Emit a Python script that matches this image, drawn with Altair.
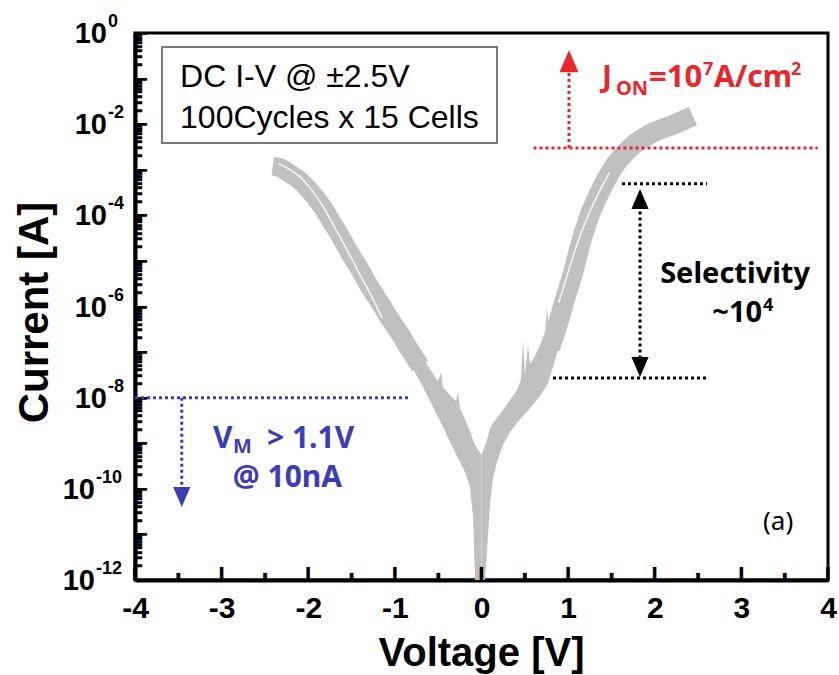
import altair as alt
import pandas as pd

# ---------------- values ----------------
# left (negative-voltage) branch of the grey I-V band: centre line
left_V = [-2.41, -2.32, -2.21, -2.09, -1.98, -1.86, -1.75, -1.63, -1.52, -1.40,
          -1.29, -1.17, -1.06, -0.94, -0.83, -0.71]
left_I = [1.2e-3, 1.1e-3, 8.1e-4, 5.6e-4, 3.4e-4, 1.78e-4, 8.3e-5, 3.5e-5, 1.48e-5, 6.3e-6,
          2.7e-6, 1.2e-6, 5.4e-7, 2.5e-7, 1.12e-7, 5.0e-8]
# thin light seam inside the left band
lseam_V = [-2.34, -2.21, -2.09, -1.98, -1.84, -1.69, -1.54, -1.40, -1.26, -1.15]
lseam_I = [1.35e-3, 1.0e-3, 6.9e-4, 4.0e-4, 1.7e-4, 5.2e-5, 1.58e-5, 4.9e-6, 1.55e-6, 5.6e-7]
# noisy low-current part of the left branch (upper and lower envelope)
larea_V = [-0.941, -0.826, -0.710, -0.595, -0.502, -0.468, -0.444, -0.364, -0.294, -0.271,
           -0.248, -0.191, -0.133, -0.098, -0.075, 0.0]
larea_top = [5.0e-7, 2.25e-7, 1.0e-7, 4.2e-8, 2.3e-8, 3.65e-8, 1.7e-8, 1.14e-8, 8.4e-9, 1.33e-8,
             5.9e-9, 3.4e-9, 1.85e-9, 1.18e-9, 9.1e-10, 5.5e-10]
larea_bot = [1.23e-7, 5.5e-8, 2.3e-8, 8.4e-9, 3.76e-9, 2.78e-9, 2.27e-9, 1.06e-9, 5.8e-10, 4.7e-10,
             3.87e-10, 2.33e-10, 1.1e-10, 2.4e-11, 1e-12, 1e-12]
# noisy low-current part of the right branch
rarea_V = [0.0, 0.040, 0.064, 0.098, 0.133, 0.179, 0.248, 0.329, 0.410, 0.456, 0.479,
           0.502, 0.537, 0.560, 0.618, 0.676, 0.734, 0.756, 0.779, 0.849, 0.906]
rarea_top = [5.5e-10, 9.1e-10, 1.18e-9, 2.16e-9, 2.78e-9, 3.57e-9, 5.35e-9, 8.9e-9, 1.47e-8, 2.44e-8,
             1.84e-7, 3.14e-8, 1.43e-7, 5.5e-8, 8.2e-8, 1.43e-7, 2.49e-7, 9.3e-7, 3.37e-7, 8.4e-7,
             1.43e-6]
rarea_bot = [1e-12, 1e-12, 4.5e-12, 4.4e-11, 1.73e-10, 3.87e-10, 9.1e-10, 1.76e-9, 2.78e-9, 3.57e-9,
             3.95e-9, 4.4e-9, 5.1e-9, 5.9e-9, 8.0e-9, 1.09e-8, 1.63e-8, 1.89e-8, 2.44e-8, 6.7e-8,
             1.58e-7]
# right (positive-voltage) branch: centre line
right_V = [0.79, 0.86, 0.96, 1.05, 1.14, 1.25, 1.39, 1.54, 1.74, 2.00, 2.23, 2.44]
right_I = [1.23e-7, 3.0e-7, 1.38e-6, 4.9e-6, 2.24e-5, 1.02e-4, 4.0e-4, 1.26e-3, 3.3e-3, 6.8e-3,
           1.0e-2, 1.5e-2]
rseam_V = [0.89, 0.98, 1.08, 1.20, 1.34, 1.48]
rseam_I = [1.2e-6, 4.2e-6, 1.74e-5, 7.1e-5, 2.8e-4, 8.9e-4]

# axes
x_tick_values = [-4, -3, -2, -1, 0, 1, 2, 3, 4]
x_minor_ticks = [-3.5, -2.5, -1.5, -0.5, 0.5, 1.5, 2.5, 3.5]
y_label_values = [1, 1e-2, 1e-4, 1e-6, 1e-8, 1e-10, 1e-12]
y_label_exponents = ["0", "-2", "-4", "-6", "-8", "-10", "-12"]
y_major_ticks = [10.0 ** -k for k in range(0, 13)]
y_minor_ticks = [m * 10.0 ** -k for k in range(1, 13) for m in range(2, 10)]

GRAY = "#c0c0c0"
RED = "#e8262b"
BLUE = "#3c3cb4"
AXF = "Liberation Sans"
ANF = "Noto Sans"
TICKF = "DejaVu Sans Mono"

# ---------------- scales / axes ----------------
xs = alt.Scale(domain=[-4, 4], nice=False, zero=False)
ys = alt.Scale(type="log", domain=[1e-12, 1], nice=False)

x_axis = alt.Axis(values=x_tick_values, labelExpr="'' + datum.value", labelFont=AXF,
                  labelFontWeight="bold", labelFontSize=30, labelColor="black",
                  labelPadding=13, labelFlush=False, labelOverlap=False,
                  ticks=False, tickSize=0, grid=False, domainColor="black", domainWidth=4,
                  title="Voltage [V]", titleFont=AXF, titleFontSize=40, titleFontWeight="bold",
                  titleColor="black", titleX=346, titleY=85, titleAlign="center",
                  titleBaseline="alphabetic")
y_axis = alt.Axis(labels=False, ticks=False, tickSize=0, grid=False, domainColor="black",
                  domainWidth=4, title="Current [A]", titleFont=AXF, titleFontSize=42,
                  titleFontWeight="bold", titleColor="black", titleX=-88, titleY=279,
                  titleAngle=270, titleAlign="center", titleBaseline="alphabetic")


def X(f):
    return alt.X(f"{f}:Q", scale=xs, axis=x_axis)


def Y(f):
    return alt.Y(f"{f}:Q", scale=ys, axis=y_axis)


layers = []

# ---------------- grey I-V band ----------------
df_la = pd.DataFrame({"V": larea_V, "top": larea_top, "bot": larea_bot})
df_ra = pd.DataFrame({"V": rarea_V, "top": rarea_top, "bot": rarea_bot})
for d in (df_la, df_ra):
    layers.append(alt.Chart(d).mark_area(color=GRAY, opacity=1, interpolate="linear")
                  .encode(x=X("V"), y=Y("top"), y2=alt.Y2("bot:Q")))

layers.append(alt.Chart(pd.DataFrame({"V": left_V, "I": left_I}))
              .mark_line(color=GRAY, strokeWidth=19, interpolate="monotone", strokeCap="butt")
              .encode(x=X("V"), y=Y("I")))
layers.append(alt.Chart(pd.DataFrame({"V": right_V, "I": right_I}))
              .mark_line(color=GRAY, strokeWidth=20, interpolate="monotone", strokeCap="butt")
              .encode(x=X("V"), y=Y("I")))
for sv, si in ((lseam_V, lseam_I), (rseam_V, rseam_I)):
    layers.append(alt.Chart(pd.DataFrame({"V": sv, "I": si}))
                  .mark_line(color="white", strokeWidth=1.5, opacity=0.85, interpolate="monotone")
                  .encode(x=X("V"), y=Y("I")))

# ---------------- inward ticks, drawn as block-element glyphs ----------------
# x: left-half block (full height) for major, lower-left quadrant (half height) for minor
for vals, glyph, fs in ((x_tick_values, "\u258c", 11), (x_minor_ticks, "\u2596", 12)):
    layers.append(alt.Chart(pd.DataFrame({"V": vals, "I": [1e-12] * len(vals)}))
                  .mark_text(text=glyph, font=TICKF, fontSize=fs, color="black", align="left",
                             baseline="alphabetic", dx=-0.15 * fs, dy=-0.236 * fs)
                  .encode(x=X("V"), y=Y("I")))
# y: lower one-eighth block for decades, lower quarter block for 2..9 minor ticks
layers.append(alt.Chart(pd.DataFrame({"I": y_major_ticks, "V": [-4.0] * len(y_major_ticks)}))
              .mark_text(text="\u2581", font=TICKF, fontSize=18, color="black", align="left",
                         baseline="alphabetic", dx=1, dy=-0.163 * 18)
              .encode(x=X("V"), y=Y("I")))
layers.append(alt.Chart(pd.DataFrame({"I": y_minor_ticks, "V": [-4.0] * len(y_minor_ticks)}))
              .mark_text(text="\u2582", font=TICKF, fontSize=10, color="black", align="left",
                         baseline="alphabetic", dx=1, dy=-0.09 * 10)
              .encode(x=X("V"), y=Y("I")))

# ---------------- y tick labels 10^n ----------------
ydf = pd.DataFrame({"I": y_label_values, "exp": y_label_exponents})
short = ydf[ydf["exp"].str.len() <= 2]
long_ = ydf[ydf["exp"].str.len() > 2]
for d, x10 in ((short, -28), (long_, -40)):
    layers.append(alt.Chart(d).mark_text(text="10", align="right", baseline="middle", font=AXF,
                                         fontWeight="bold", fontSize=29, color="black", dy=1)
                  .encode(x=alt.value(x10), y=Y("I")))
    layers.append(alt.Chart(d).mark_text(align="left", baseline="middle", font=AXF,
                                         fontWeight="bold", fontSize=18, color="black", dy=-11)
                  .encode(x=alt.value(x10 + 1), y=Y("I"), text=alt.Text("exp:N")))


# ---------------- annotations ----------------
def hrule(v1, v2, i, color):
    return (alt.Chart(pd.DataFrame({"V": [v1], "V2": [v2], "I": [i]}))
            .mark_rule(color=color, strokeWidth=3, strokeDash=[3, 3])
            .encode(x=X("V"), x2=alt.X2("V2:Q"), y=Y("I")))


def vrule(v, i1, i2, color):
    return (alt.Chart(pd.DataFrame({"V": [v], "I": [i1], "I2": [i2]}))
            .mark_rule(color=color, strokeWidth=3, strokeDash=[3, 3])
            .encode(x=X("V"), y=Y("I"), y2=alt.Y2("I2:Q")))


UP = "M0,0L0.86,2L-0.86,2Z"
DOWN = "M0,0L0.86,-2L-0.86,-2Z"


def head(v, i, shape, color, size):
    return (alt.Chart(pd.DataFrame({"V": [v], "I": [i]}))
            .mark_point(shape=shape, size=size, filled=True, fill=color, opacity=1, strokeWidth=0)
            .encode(x=X("V"), y=Y("I")))


def txt(text, v, i, size, color, font=ANF, weight="bold", align="left", dx=0, dy=0):
    return (alt.Chart(pd.DataFrame({"V": [v], "I": [i]}))
            .mark_text(text=text, font=font, fontWeight=weight, fontSize=size, color=color,
                       align=align, baseline="alphabetic", dx=dx, dy=dy)
            .encode(x=X("V"), y=Y("I")))


# legend box
layers.append(alt.Chart(pd.DataFrame({"V": [-3.689], "V2": [0.179], "I": [0.493], "I2": [3.86e-3]}))
              .mark_rect(fill="white", fillOpacity=0, stroke="#7a7a7a", strokeWidth=2)
              .encode(x=X("V"), x2=alt.X2("V2:Q"), y=Y("I"), y2=alt.Y2("I2:Q")))
layers.append(txt("DC I-V @ \u00b12.5V", -3.48, 0.0653, 32, "black", font=AXF, weight="normal"))
layers.append(txt("100Cycles x 15 Cells", -3.48, 8.2e-3, 32, "black", font=AXF, weight="normal"))

# red: J_ON
layers.append(hrule(0.6, 3.88, 3.0e-3, RED))
layers.append(vrule(1.01, 3.0e-3, 0.2, RED))
layers.append(head(1.01, 0.42, UP, RED, 484))
RV, RI = 1.391, 0.0653
layers.append(txt("J", RV, RI, 30, RED))
layers.append(txt("ON", RV, RI, 20, RED, dx=14, dy=8))
layers.append(txt("=10", RV, RI, 31, RED, dx=47))
layers.append(txt("7", RV, RI, 18, RED, dx=101, dy=-12))
layers.append(txt("A/cm", RV, RI, 30, RED, dx=112))
layers.append(txt("2", RV, RI, 18, RED, dx=189, dy=-12))

# black: selectivity
layers.append(hrule(1.622, 2.604, 4.9e-4, "black"))
layers.append(hrule(0.826, 2.604, 2.7e-8, "black"))
layers.append(vrule(1.83, 3.0e-4, 4.0e-8, "black"))
layers.append(head(1.83, 3.8e-4, UP, "black", 400))
layers.append(head(1.83, 2.84e-8, DOWN, "black", 400))
layers.append(txt("Selectivity", 2.927, 3.27e-6, 29, "black", align="center"))
layers.append(txt("~10", 3.239, 4.57e-7, 29, "black", align="right"))
layers.append(txt("4", 3.239, 4.57e-7, 18, "black", dx=1, dy=-11))

# blue: V_M
layers.append(hrule(-4.0, -0.826, 1e-8, BLUE))
layers.append(vrule(-3.46, 1e-8, 9.4e-11, BLUE))
layers.append(head(-3.46, 4.0e-11, DOWN, BLUE, 400))
BV, BI = -3.10, 7.85e-10
layers.append(txt("V", BV, BI, 30, BLUE))
layers.append(txt("M", BV, BI, 20, BLUE, dx=20, dy=5))
layers.append(txt("> 1.1V", BV, BI, 30, BLUE, dx=54))
layers.append(txt("@ 10nA", -2.24, 1.1e-10, 30, BLUE, align="center"))

# panel tag
layers.append(txt("(a)", 3.424, 1.25e-11, 26, "black", weight="normal", align="center"))

chart = (alt.layer(*layers)
         .properties(width=693, height=547, background="white",
                     autosize=alt.AutoSizeParams(type="none"),
                     padding={"left": 135, "top": 33, "right": 11, "bottom": 95})
         .configure_view(stroke="black", strokeWidth=3))

chart.save("out.html", embed_options={"renderer": "svg", "actions": False})
